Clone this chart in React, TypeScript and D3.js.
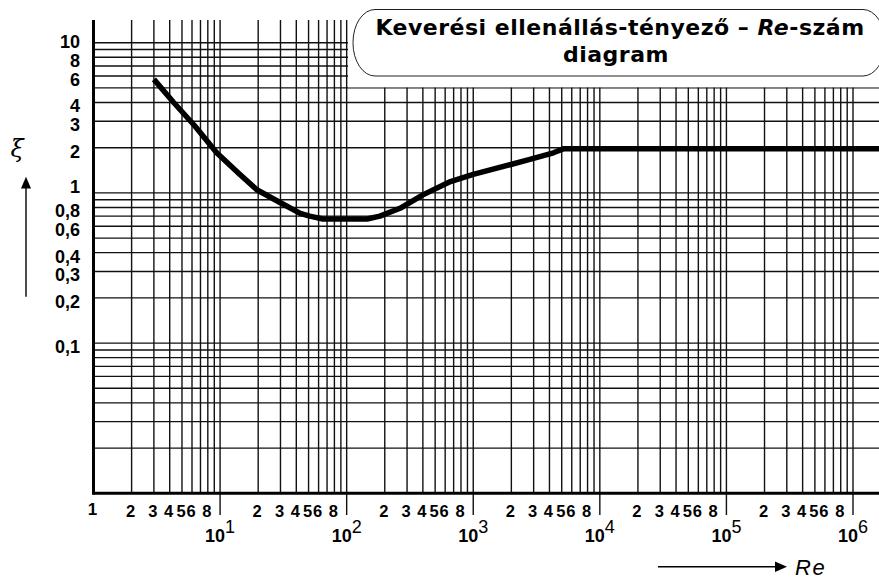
import React from 'react';
import * as d3 from 'd3';

// Curve data (Re, ξ)
const reValues = [3, 4.3, 6.3, 9.4, 14, 19.5, 30, 43, 51, 65, 145, 183, 264, 400, 660, 1000, 1950, 2800, 4300, 5200, 2e6];
const xiValues = [5.7, 4.0, 2.8, 1.85, 1.35, 1.05, 0.86, 0.73, 0.7, 0.67, 0.67, 0.7, 0.79, 0.97, 1.19, 1.33, 1.54, 1.67, 1.85, 1.97, 1.97];

// Axis ticks / labels
const xDecadeExponents = [1, 2, 3, 4, 5, 6];
const xMinorLabels = [2, 3, 4, 5, 6, 8];
const gridMultipliers = [1, 2, 3, 4, 5, 6, 7, 8, 9];
const xGridExponents = [0, 1, 2, 3, 4, 5, 6];
const yGridExponents = [-2, -1, 0, 1];
const yTickValues = [10, 8, 6, 4, 3, 2, 1, 0.8, 0.6, 0.4, 0.3, 0.2, 0.1];
const yTickLabels = ['10', '8', '6', '4', '3', '2', '1', '0,8', '0,6', '0,4', '0,3', '0,2', '0,1'];
const titleLine1a = 'Keverési ellenállás-tényező – ';
const titleLine1b = 'Re';
const titleLine1c = '-szám';
const titleLine2 = 'diagram';

const W = 879;
const H = 579;
const left = 93.5;
const top = 20;
const bottom = 493.3;

export default function App() {
  const x = d3.scaleLog().domain([1, 1e6]).range([left, 853]);
  const y = d3.scaleLog().domain([0.01, 10]).range([bottom, 42.7]);
  const yTopVal = y.invert(top);
  const xRightVal = x.invert(W);

  const xGrid: number[] = [];
  xGridExponents.forEach((e) => gridMultipliers.forEach((m) => {
    const v = m * Math.pow(10, e);
    if (v <= xRightVal) xGrid.push(v);
  }));
  const yGrid: number[] = [];
  yGridExponents.forEach((e) => gridMultipliers.forEach((m) => {
    const v = m * Math.pow(10, e);
    if (v <= yTopVal) yGrid.push(v);
  }));

  const line = d3.line<number>()
    .x((_, i) => x(reValues[i]))
    .y((_, i) => y(xiValues[i]))
    .curve(d3.curveLinear);
  const pathD = line(reValues) || '';

  const boldFont = '"Liberation Sans", Arial, sans-serif';
  const gridColor = '#111';

  const labelOffset = (v: number) => (v === 1 ? -6 : v === 10 ? -1 : 4);

  return (
    <div style={{ position: 'absolute', left: 0, top: 0 }}>
      <svg width={W} height={H} style={{ display: 'block', background: '#fff' }}>
        <rect x={0} y={0} width={W} height={H} fill="#fff" />
        {/* horizontal grid */}
        {yGrid.map((v, i) => (
          <line key={'h' + i} x1={left} x2={W} y1={y(v)} y2={y(v)} stroke={gridColor} strokeWidth={1.4} />
        ))}
        {/* vertical grid */}
        {xGrid.map((v, i) => {
          const isDecade = Math.abs(Math.log10(v) - Math.round(Math.log10(v))) < 1e-9 && v > 1;
          return (
            <line key={'v' + i} x1={x(v)} x2={x(v)} y1={top} y2={isDecade ? 515 : bottom} stroke={gridColor} strokeWidth={1.4} />
          );
        })}
        {/* white area behind title */}
        <rect x={348} y={0} width={W - 348} height={87.3} fill="#fff" />
        {/* axes */}
        <line x1={left} x2={left} y1={top} y2={bottom + 1.5} stroke="#000" strokeWidth={3} />
        <line x1={left} x2={W} y1={bottom} y2={bottom} stroke="#000" strokeWidth={3} />

        {/* curve */}
        <path d={pathD} fill="none" stroke="#000" strokeWidth={5.5} strokeLinejoin="round" />

        {/* title box */}
        <rect x={353} y={9.5} width={532} height={66.5} rx={22} ry={33} fill="#fff" stroke="#222" strokeWidth={1} />
        <text x={620} y={35} textAnchor="middle" fontFamily='"DejaVu Sans", Verdana, sans-serif' fontWeight="bold" fontSize={22} letterSpacing={0.5} fill="#000">
          {titleLine1a}
          <tspan fontStyle="italic">{titleLine1b}</tspan>
          {titleLine1c}
        </text>
        <text x={616} y={62} textAnchor="middle" fontFamily='"DejaVu Sans", Verdana, sans-serif' fontWeight="bold" fontSize={22} letterSpacing={0.5} fill="#000">
          {titleLine2}
        </text>

        {/* y tick labels */}
        {yTickValues.map((v, i) => (
          <text key={'yl' + i} x={80} y={y(v) + labelOffset(v)} textAnchor="end" dominantBaseline="central"
            fontFamily={boldFont} fontWeight="bold" fontSize={18} fill="#000">
            {yTickLabels[i]}
          </text>
        ))}

        {/* x labels */}
        <text x={92.5} y={515} textAnchor="middle" fontFamily={boldFont} fontWeight="bold" fontSize={17} fill="#000">1</text>
        {[0, ...xDecadeExponents].map((e) =>
          xMinorLabels.map((m) => {
            const v = m * Math.pow(10, e);
            if (v > xRightVal) return null;
            return (
              <text key={'xm' + e + '-' + m} x={x(v) - 1} y={516.5} textAnchor="middle" fontFamily={boldFont} fontWeight="bold" fontSize={16.5} fill="#000">
                {m}
              </text>
            );
          })
        )}
        {xDecadeExponents.map((e) => (
          <text key={'xd' + e} x={x(Math.pow(10, e)) - 15} y={541.5} fontFamily={boldFont} fontWeight="bold" fontSize={18} fill="#000">
            10
            <tspan dy={-9} fontWeight="normal" fontSize={18}>{String(e)}</tspan>
          </text>
        ))}

        {/* y axis symbol and arrow */}
        <text x={17} y={157} textAnchor="middle" fontFamily='"DejaVu Serif", "Liberation Serif", serif' fontStyle="italic" fontSize={24} fill="#000">ξ</text>
        <line x1={26} x2={26} y1={296.7} y2={186} stroke="#000" strokeWidth={1.4} />
        <path d="M26,176.7 L21,188.5 L31,188.5 Z" fill="#000" />

        {/* x axis arrow and label */}
        <line x1={658} x2={777} y1={566.7} y2={566.7} stroke="#000" strokeWidth={1.4} />
        <path d="M787,566.7 L775,561.5 L775,572 Z" fill="#000" />
        <text x={795} y={574.5} fontFamily={boldFont} fontStyle="italic" fontSize={22} letterSpacing={1.5} fill="#000">Re</text>
      </svg>
    </div>
  );
}
